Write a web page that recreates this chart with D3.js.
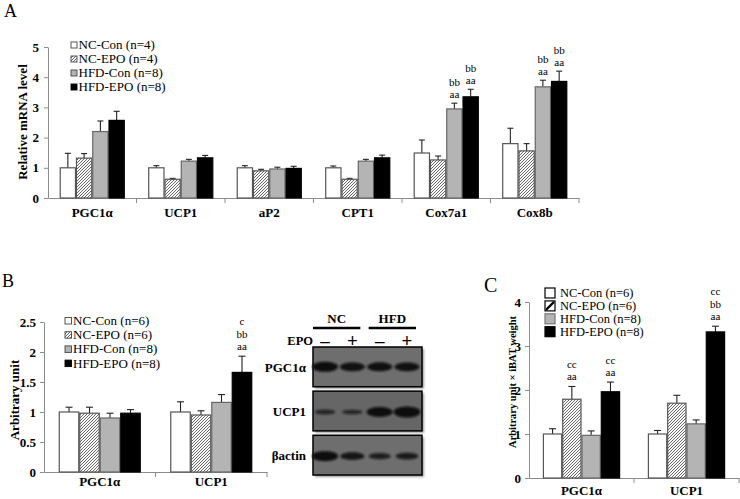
<!DOCTYPE html>
<html><head><meta charset="utf-8">
<script src="https://cdn.jsdelivr.net/npm/d3@7"></script>
<style>
body{margin:0;background:#fff;}
svg{display:block;font-family:"Liberation Serif","Times New Roman",serif;}
</style></head><body>
<svg id="fig" width="740" height="499"></svg>
<script>
// ---------- DATA ----------
const seriesNames = ["NC-Con", "NC-EPO", "HFD-Con", "HFD-EPO"];

// Panel A
const aCategories = ["PGC1α", "UCP1", "aP2", "CPT1", "Cox7a1", "Cox8b"];
const aLegend = ["NC-Con (n=4)", "NC-EPO (n=4)", "HFD-Con (n=8)", "HFD-EPO (n=8)"];
const aNcCon  = [1.00, 1.00, 1.00, 1.00, 1.49, 1.80];
const aNcEpo  = [1.32, 0.62, 0.90, 0.62, 1.26, 1.56];
const aHfdCon = [2.20, 1.22, 0.96, 1.22, 2.95, 3.68];
const aHfdEpo = [2.57, 1.33, 0.98, 1.33, 3.35, 3.86];
const aNcConErr  = [0.48, 0.07, 0.07, 0.06, 0.43, 0.51];
const aNcEpoErr  = [0.15, 0.03, 0.05, 0.03, 0.13, 0.24];
const aHfdConErr = [0.35, 0.06, 0.06, 0.06, 0.19, 0.22];
const aHfdEpoErr = [0.30, 0.08, 0.07, 0.09, 0.25, 0.34];
const aAnnot = [["", "", "", ""], ["", "", "", ""], ["", "", "", ""], ["", "", "", ""],
                ["", "", "bb|aa", "bb|aa"], ["", "", "bb|aa", "bb|aa"]];
const aTicks = [0, 1, 2, 3, 4, 5];
const aTickLabels = ["0", "1", "2", "3", "4", "5"];

// Panel B
const bCategories = ["PGC1α", "UCP1"];
const bLegend = ["NC-Con (n=6)", "NC-EPO (n=6)", "HFD-Con (n=8)", "HFD-EPO (n=8)"];
const bNcCon  = [1.00, 1.00];
const bNcEpo  = [0.98, 0.95];
const bHfdCon = [0.90, 1.16];
const bHfdEpo = [0.98, 1.66];
const bNcConErr  = [0.08, 0.17];
const bNcEpoErr  = [0.10, 0.07];
const bHfdConErr = [0.08, 0.13];
const bHfdEpoErr = [0.06, 0.27];
const bAnnot = [["", "", "", ""], ["", "", "", "c|bb|aa"]];
const bTicks = [0, 0.5, 1, 1.5, 2, 2.5];
const bTickLabels = ["0", "0.5", "1", "1.5", "2", "2.5"];

// Panel C
const cCategories = ["PGC1α", "UCP1"];
const cLegend = ["NC-Con (n=6)", "NC-EPO (n=6)", "HFD-Con (n=8)", "HFD-EPO (n=8)"];
const cNcCon  = [1.00, 1.00];
const cNcEpo  = [1.79, 1.70];
const cHfdCon = [0.97, 1.23];
const cHfdEpo = [1.96, 3.32];
const cNcConErr  = [0.12, 0.08];
const cNcEpoErr  = [0.29, 0.18];
const cHfdConErr = [0.10, 0.09];
const cHfdEpoErr = [0.22, 0.13];
const cAnnot = [["", "cc|aa", "", "cc|aa"], ["", "", "", "cc|bb|aa"]];
const cTicks = [0, 1, 2, 3, 4];
const cTickLabels = ["0", "1", "2", "3", "4"];

// Western blot
const blotRows = ["PGC1α", "UCP1", "βactin"];
const blotGroups = ["NC", "HFD"];
const blotLanes = ["−", "+", "−", "+"];
const blotBand = [[1.00, 0.90, 0.92, 0.90],
                  [0.45, 0.42, 1.00, 1.08],
                  [1.00, 0.80, 0.62, 0.68]];

// ---------- DRAWING ----------
const svg = d3.select("#fig");
const defs = svg.append("defs");
const hp = defs.append("pattern").attr("id", "hatch").attr("patternUnits", "userSpaceOnUse")
  .attr("width", 3).attr("height", 3);
hp.append("rect").attr("width", 3).attr("height", 3).attr("fill", "#fff");
hp.append("path").attr("d", "M-1,1 l2,-2 M0,3 l3,-3 M2,4 l2,-2")
  .attr("stroke", "#555").attr("stroke-width", 0.9);
const blur = defs.append("filter").attr("id", "blur").attr("x", "-50%").attr("y", "-80%")
  .attr("width", "200%").attr("height", "260%");
blur.append("feGaussianBlur").attr("stdDeviation", 1.3);
const blur2 = defs.append("filter").attr("id", "blur2");
blur2.append("feGaussianBlur").attr("stdDeviation", 1.2);

const fills = ["#ffffff", "url(#hatch)", "#b4b4b4", "#000000"];
const strokes = ["#555", "#555", "#666", "#000"];
const axisColor = "#8c8c8c";

function drawPanel(o) {
  const g = svg.append("g");
  const x = d3.scaleBand().domain(o.cats).range([o.x0, o.x1]).paddingInner(0).paddingOuter(0);
  const xs = d3.scaleBand().domain(seriesNames).range([0, x.bandwidth()]).paddingInner(0).paddingOuter(0.72);
  const y = d3.scaleLinear().domain([0, o.ymax]).range([o.yb, o.yt]);

  // y axis
  const ya = g.append("g").attr("transform", `translate(${o.x0},0)`)
    .call(d3.axisLeft(y).tickValues(o.ticks).tickFormat((d, i) => o.tickLabels[i])
      .tickSize(4).tickSizeOuter(0).tickPadding(o.tickPad));
  ya.select(".domain").attr("stroke", axisColor);
  ya.selectAll(".tick line").attr("stroke", axisColor);
  ya.selectAll(".tick text").attr("fill", "#000").attr("font-family", "Liberation Serif")
    .attr("font-weight", "bold").attr("font-size", o.tickFont);

  // x axis
  const xa = g.append("g").attr("transform", `translate(0,${o.yb})`)
    .call(d3.axisBottom(x).tickSize(0).tickSizeOuter(0).tickPadding(o.catPad));
  xa.select(".domain").attr("stroke", axisColor);
  xa.selectAll(".tick text").attr("fill", "#000").attr("font-family", "Liberation Serif")
    .attr("font-weight", "bold").attr("font-size", o.catFont);
  const bounds = o.cats.slice(1).map(c => x(c)).concat([o.x1]);
  g.selectAll(".bnd").data(bounds).join("line")
    .attr("x1", d => d).attr("x2", d => d).attr("y1", o.yb).attr("y2", o.yb + 5)
    .attr("stroke", axisColor);

  // bars
  const rows = [];
  o.cats.forEach((c, i) => {
    seriesNames.forEach((s, j) => {
      rows.push({c, s, j, v: o.vals[j][i], e: o.errs[j][i], a: o.annot[i][j]});
    });
  });
  const bg = g.append("g");
  bg.selectAll(".err").data(rows).join("line")
    .attr("x1", d => x(d.c) + xs(d.s) + xs.bandwidth() / 2)
    .attr("x2", d => x(d.c) + xs(d.s) + xs.bandwidth() / 2)
    .attr("y1", d => y(d.v)).attr("y2", d => y(d.v + d.e))
    .attr("stroke", "#222").attr("stroke-width", 1.1);
  bg.selectAll(".cap").data(rows).join("line")
    .attr("x1", d => x(d.c) + xs(d.s) + xs.bandwidth() / 2 - o.cap)
    .attr("x2", d => x(d.c) + xs(d.s) + xs.bandwidth() / 2 + o.cap)
    .attr("y1", d => y(d.v + d.e)).attr("y2", d => y(d.v + d.e))
    .attr("stroke", "#222").attr("stroke-width", 1.1);
  bg.selectAll(".bar").data(rows).join("rect")
    .attr("x", d => x(d.c) + xs(d.s) + 0.5)
    .attr("width", xs.bandwidth() - 1)
    .attr("y", d => y(d.v))
    .attr("height", d => o.yb - y(d.v))
    .attr("fill", d => fills[d.j])
    .attr("stroke", d => strokes[d.j]).attr("stroke-width", 1.2);

  // annotations (one text element per bar, one tspan per line)
  rows.filter(d => d.a).forEach(d => {
    const lines = d.a.split("|");
    const cx = x(d.c) + xs(d.s) + xs.bandwidth() / 2;
    const base = y(d.v + d.e) - o.annGap;
    const t = g.append("text").attr("text-anchor", "middle").attr("font-size", o.annFont).attr("fill", "#000");
    lines.forEach((s, k) => {
      t.append("tspan").attr("x", cx).attr("y", base - (lines.length - 1 - k) * o.annStep).text(s);
    });
  });

  // y label
  g.append("text").attr("transform", `translate(${o.ylx},${o.yly}) rotate(-90)`)
    .attr("text-anchor", "middle").attr("font-weight", "bold").attr("font-size", o.ylFont)
    .attr("fill", "#000").text(o.ylabel);

  // legend
  const lg = g.append("g");
  o.legend.forEach((t, j) => {
    const by = o.lgy + j * o.lgStep;
    if (o.bigKey) {
      lg.append("rect").attr("x", o.lgx).attr("y", by - o.key + 1).attr("width", o.key).attr("height", o.key)
        .attr("fill", j === 1 ? "#fff" : fills[j]).attr("stroke", j === 2 ? "#777" : "#000").attr("stroke-width", 1.2);
      if (j === 1) {
        lg.append("line").attr("x1", o.lgx + 1).attr("y1", by).attr("x2", o.lgx + o.key - 1)
          .attr("y2", by - o.key + 2).attr("stroke", "#000").attr("stroke-width", 2.2);
      }
    } else {
      lg.append("rect").attr("x", o.lgx).attr("y", by - o.key - 1).attr("width", o.key).attr("height", o.key)
        .attr("fill", fills[j]).attr("stroke", j === 3 ? "#000" : "#444").attr("stroke-width", 0.9);
    }
    lg.append("text").attr("x", o.lgx + o.key + o.lgTextGap).attr("y", by)
      .attr("font-size", o.lgFont).attr("fill", "#000").text(t);
  });
}

// Panel A
drawPanel({
  cats: aCategories, vals: [aNcCon, aNcEpo, aHfdCon, aHfdEpo],
  errs: [aNcConErr, aNcEpoErr, aHfdConErr, aHfdEpoErr], annot: aAnnot,
  x0: 48, x1: 579, yb: 198, yt: 47, ymax: 5, ticks: aTicks, tickLabels: aTickLabels,
  tickPad: 5, tickFont: 13, catPad: 10, catFont: 13, cap: 3,
  annGap: 5, annStep: 12.4, annFont: 11,
  ylabel: "Relative mRNA level", ylx: 27, yly: 122, ylFont: 13,
  legend: aLegend, lgx: 71, lgy: 49, lgStep: 14, key: 6, lgTextGap: 1.5, lgFont: 13, bigKey: false
});
svg.append("text").attr("x", 4).attr("y", 17).attr("font-size", 18).attr("fill", "#000").text("A");

// Panel B
drawPanel({
  cats: bCategories, vals: [bNcCon, bNcEpo, bHfdCon, bHfdEpo],
  errs: [bNcConErr, bNcEpoErr, bHfdConErr, bHfdEpoErr], annot: bAnnot,
  x0: 44, x1: 267, yb: 472, yt: 322, ymax: 2.5, ticks: bTicks, tickLabels: bTickLabels,
  tickPad: 4, tickFont: 13, catPad: 5, catFont: 13, cap: 3.5,
  annGap: 6, annStep: 12.4, annFont: 11,
  ylabel: "Arbitrary unit", ylx: 19, yly: 400, ylFont: 13,
  legend: bLegend, lgx: 65, lgy: 325, lgStep: 14.2, key: 6.5, lgTextGap: 1.5, lgFont: 13, bigKey: false
});
svg.append("text").attr("x", 2).attr("y", 287).attr("font-size", 18).attr("fill", "#000").text("B");

// Panel C
drawPanel({
  cats: cCategories, vals: [cNcCon, cNcEpo, cHfdCon, cHfdEpo],
  errs: [cNcConErr, cNcEpoErr, cHfdConErr, cHfdEpoErr], annot: cAnnot,
  x0: 529, x1: 739, yb: 478, yt: 302, ymax: 4, ticks: cTicks, tickLabels: cTickLabels,
  tickPad: 4, tickFont: 13, catPad: 8, catFont: 13, cap: 3.5,
  annGap: 6, annStep: 12.4, annFont: 11,
  ylabel: "Arbitrary unit × iBAT weight", ylx: 516, yly: 382, ylFont: 10.5,
  legend: cLegend, lgx: 545, lgy: 297, lgStep: 12.9, key: 10, lgTextGap: 5, lgFont: 12.5, bigKey: true
});
svg.append("text").attr("x", 484).attr("y", 292).attr("font-size", 20).attr("fill", "#000").text("C");

// Western blot
(function () {
  const g = svg.append("g");
  const bx0 = 313, bx1 = 422;
  const lane = d3.scalePoint().domain(d3.range(blotLanes.length)).range([325, 407]);
  const row = d3.scaleBand().domain(blotRows).range([347, 475]).paddingInner(0.1);
  const grp = d3.scaleBand().domain(blotGroups).range([313, 416]).paddingInner(0.15);

  blotGroups.forEach(gname => {
    g.append("line").attr("x1", grp(gname)).attr("x2", grp(gname) + grp.bandwidth())
      .attr("y1", 328).attr("y2", 328).attr("stroke", "#000").attr("stroke-width", 2.6);
    g.append("text").attr("x", grp(gname) + grp.bandwidth() / 2).attr("y", 323)
      .attr("text-anchor", "middle").attr("font-weight", "bold").attr("font-size", 13).text(gname);
  });
  g.append("text").attr("x", 313).attr("y", 345).attr("text-anchor", "end")
    .attr("font-weight", "bold").attr("font-size", 12.5).text("EPO");
  blotLanes.forEach((s, i) => {
    g.append("text").attr("x", lane(i)).attr("y", 347).attr("text-anchor", "middle")
      .attr("font-weight", "bold").attr("font-size", 19).text(s === "−" ? "–" : "+");
  });

  blotRows.forEach((r, ri) => {
    const y0 = row(r), h = row.bandwidth();
    g.append("rect").attr("x", bx0 + 2).attr("y", y0 + 2).attr("width", bx1 - bx0).attr("height", h)
      .attr("fill", "#9a9a9a").attr("filter", "url(#blur2)");
    g.append("rect").attr("x", bx0).attr("y", y0).attr("width", bx1 - bx0).attr("height", h)
      .attr("fill", ri === 1 ? "#666" : "#6e6e6e").attr("stroke", "#000").attr("stroke-width", 1.5);
    blotBand[ri].forEach((v, li) => {
      g.append("ellipse").attr("cx", lane(li)).attr("cy", y0 + h / 2 + (ri === 0 ? 0 : 1))
        .attr("rx", 8 + 5 * v).attr("ry", 1.8 + 3.2 * v * v)
        .attr("fill", "#0a0a0a").attr("opacity", Math.min(1, 0.55 + 0.45 * v))
        .attr("filter", "url(#blur)");
    });
    g.append("text").attr("x", 306).attr("y", y0 + h / 2 + 5).attr("text-anchor", "end")
      .attr("font-weight", "bold").attr("font-size", 13).text(r);
  });
})();
</script>
</body></html>
